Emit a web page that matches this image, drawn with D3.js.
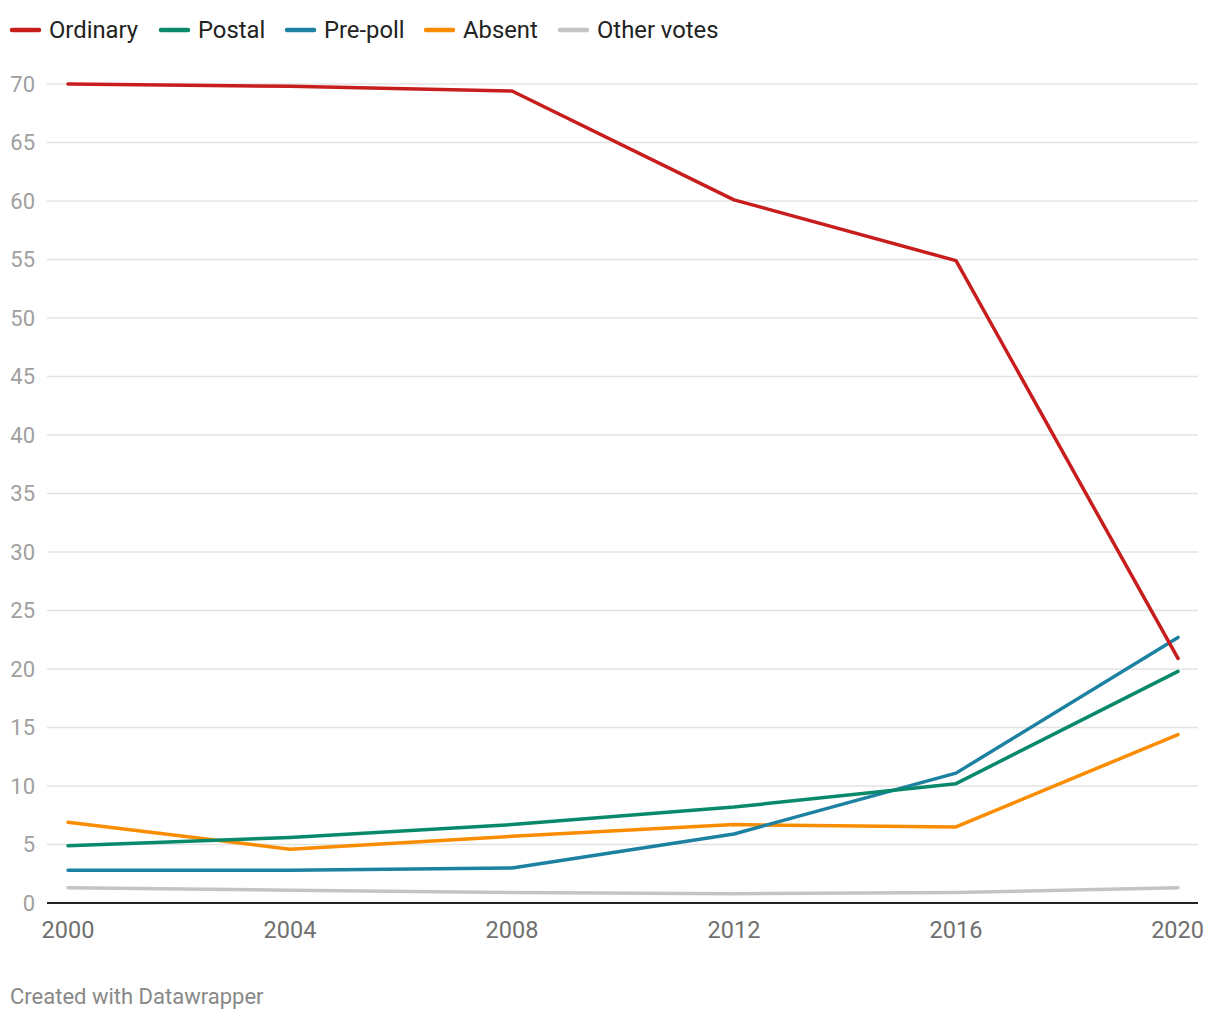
<!DOCTYPE html>
<html>
<head>
<meta charset="utf-8">
<script src="https://cdn.jsdelivr.net/npm/d3@7"></script>
<style>
  body { margin: 0; background: #fff; font-family: Roboto, sans-serif; }
</style>
</head>
<body>
<div id="chart"></div>
<script>
// Data
const years = [2000, 2004, 2008, 2012, 2016, 2020];
const ordinary = [70.0, 69.8, 69.4, 60.1, 54.9, 20.9];
const postal = [4.9, 5.6, 6.7, 8.2, 10.2, 19.8];
const prePoll = [2.8, 2.8, 3.0, 5.9, 11.1, 22.7];
const absent = [6.9, 4.6, 5.7, 6.7, 6.5, 14.4];
const otherVotes = [1.3, 1.1, 0.9, 0.8, 0.9, 1.3];
const yTicks = [0, 5, 10, 15, 20, 25, 30, 35, 40, 45, 50, 55, 60, 65, 70];

const series = [
    {name: "Ordinary", values: ordinary, color: "#c71e1d"},
    {name: "Postal", values: postal, color: "#09896c"},
    {name: "Pre-poll", values: prePoll, color: "#1d81a2"},
    {name: "Absent", values: absent, color: "#fa8c00"},
    {name: "Other votes", values: otherVotes, color: "#c4c4c4"},
];

// Dimensions
const width = 1220;
const height = 1020;

const svg = d3.select("#chart")
    .append("svg")
    .attr("width", width)
    .attr("height", height);

const x = d3.scaleLinear().domain([2000, 2020]).range([68, 1178]);
const y = d3.scaleLinear().domain([0, 70]).range([903, 84]);

// Gridlines and y labels
const grid = svg.append("g");
grid.selectAll("line")
    .data(yTicks.filter(d => d > 0))
    .enter()
    .append("line")
    .attr("x1", 47)
    .attr("x2", 1198)
    .attr("y1", d => y(d))
    .attr("y2", d => y(d))
    .attr("stroke", "#e3e3e3")
    .attr("stroke-width", 1.5);

grid.selectAll("text")
    .data(yTicks)
    .enter()
    .append("text")
    .attr("x", 35)
    .attr("y", d => y(d))
    .attr("dy", "0.35em")
    .attr("text-anchor", "end")
    .style("font-size", "22px")
    .style("fill", "#a0a0a0")
    .text(d => d);

// Baseline
svg.append("line")
    .attr("x1", 47)
    .attr("x2", 1198)
    .attr("y1", y(0))
    .attr("y2", y(0))
    .attr("stroke", "#222")
    .attr("stroke-width", 2);

// X axis labels
svg.append("g")
    .selectAll("text")
    .data(years)
    .enter()
    .append("text")
    .attr("x", d => x(d))
    .attr("y", 938)
    .attr("text-anchor", d => d === 2020 ? "end" : "middle")
    .attr("dx", d => d === 2020 ? 26 : 0)
    .style("font-size", "23.5px")
    .style("fill", "#707070")
    .text(d => d);

// Lines (draw grey first so others sit on top)
const line = d3.line()
    .x((d, i) => x(years[i]))
    .y(d => y(d));

svg.append("g")
    .selectAll("path")
    .data(series.slice().reverse())
    .enter()
    .append("path")
    .attr("d", d => line(d.values))
    .attr("fill", "none")
    .attr("stroke", d => d.color)
    .attr("stroke-width", 3.5)
    .attr("stroke-linejoin", "round")
    .attr("stroke-linecap", "round");

// Legend
const legendX = [12, 161, 287, 426, 560];
const legend = svg.append("g")
    .selectAll("g")
    .data(series)
    .enter()
    .append("g")
    .attr("transform", (d, i) => `translate(${legendX[i]}, 30)`);

legend.append("line")
    .attr("x1", 0)
    .attr("x2", 27)
    .attr("stroke", d => d.color)
    .attr("stroke-width", 4.5)
    .attr("stroke-linecap", "round");

legend.append("text")
    .attr("x", 37)
    .attr("dy", "0.35em")
    .style("font-size", "23.8px")
    .style("fill", "#222")
    .text(d => d.name);

// Footer
svg.append("text")
    .attr("x", 10)
    .attr("y", 1004)
    .style("font-size", "22px")
    .style("fill", "#888")
    .text("Created with Datawrapper");
</script>
</body>
</html>
